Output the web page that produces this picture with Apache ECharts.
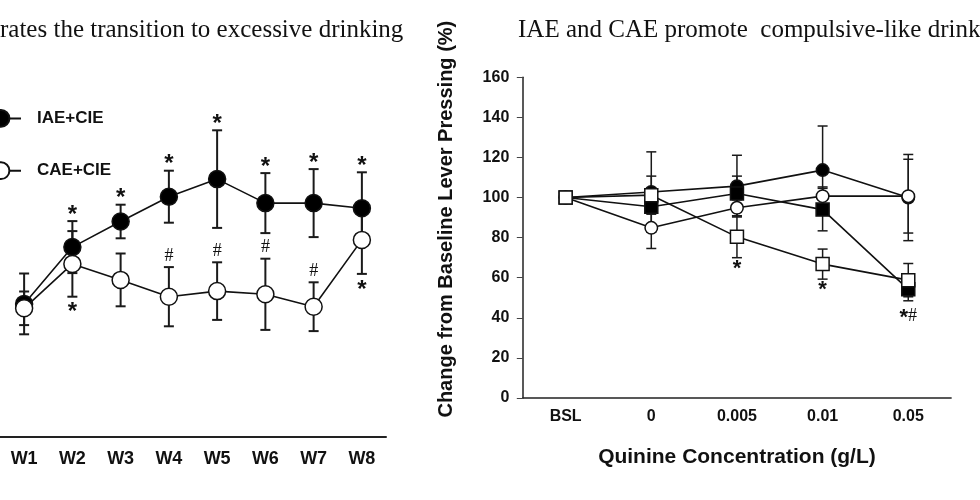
<!DOCTYPE html>
<html>
<head>
<meta charset="utf-8">
<script src="https://cdn.jsdelivr.net/npm/echarts@6.0.0/dist/echarts.min.js"></script>
<style>
    html, body { margin: 0; padding: 0; background: #fff; }
    #main { width: 980px; height: 500px; }
</style>
</head>
<body>
<div id="main"></div>
<script>
    // left panel: weekly intake
    var weeks = ['W1', 'W2', 'W3', 'W4', 'W5', 'W6', 'W7', 'W8'];
    var iaeCieMean = [3.32, 4.74, 5.38, 6.00, 6.44, 5.84, 5.84, 5.71];
    var iaeCieSem  = [0.76, 0.65, 0.42, 0.65, 1.22, 0.75, 0.85, 0.90];
    var caeCieMean = [3.21, 4.32, 3.92, 3.50, 3.64, 3.56, 3.25, 4.92];
    var caeCieSem  = [0.42, 0.82, 0.66, 0.74, 0.72, 0.89, 0.61, 0.85];
    var iaeCieStars  = ['', '*', '*', '*', '*', '*', '*', '*'];
    var caeCieHashes = ['', '', '', '#', '#', '#', '#', ''];
    var caeCieStars  = ['', '*', '', '', '', '', '', '*'];

    // right panel: quinine adulteration
    var concentrations = ['BSL', '0', '0.005', '0.01', '0.05'];
    var qIaeCieMean = [100, 102.8, 105.7, 113.7, 100];
    var qIaeCieSem  = [0, 20, 15.4, 22, 21.5];
    var qCaeCieMean = [100, 84.9, 94.9, 100.7, 100.7];
    var qCaeCieSem  = [0, 10.3, 4, 4.6, 18.4];
    var qIaeAirMean = [100, 95.4, 102, 94, 54.2];
    var qIaeAirSem  = [0, 3, 8.7, 10.6, 5.7];
    var qCaeAirMean = [100, 101.2, 80.4, 66.8, 58.8];
    var qCaeAirSem  = [0, 9.5, 10.4, 7.5, 8.3];
    var qCaeAirMarks = ['', '', '*', '*', ''];
    var qIaeAirMarks = ['', '', '', '', '*#'];

    var SANS = 'Liberation Sans';
    var SERIF = 'Liberation Serif';

    //误差线数据 [index, low, high]
    function errorRows(mean, sem) {
        var rows = [];
        for (var i = 0; i < mean.length; i++) {
            if (sem[i] > 0) {
                rows.push([i, mean[i] - sem[i], mean[i] + sem[i]]);
            }
        }
        return rows;
    }

    function errorSeries(axisIndex, mean, sem, capHalf, width) {
        return {
            type: 'custom',
            xAxisIndex: axisIndex,
            yAxisIndex: axisIndex,
            z: 1,
            silent: true,
            data: errorRows(mean, sem),
            encode: { x: 0, y: [1, 2] },
            renderItem: function (params, api) {
                var hi = api.coord([api.value(0), api.value(2)]);
                var lo = api.coord([api.value(0), api.value(1)]);
                var st = { stroke: '#1a1a1a', lineWidth: width };
                return {
                    type: 'group',
                    children: [
                        { type: 'line', shape: { x1: hi[0], y1: hi[1], x2: lo[0], y2: lo[1] }, style: st },
                        { type: 'line', shape: { x1: hi[0] - capHalf, y1: hi[1], x2: hi[0] + capHalf, y2: hi[1] }, style: st },
                        { type: 'line', shape: { x1: lo[0] - capHalf, y1: lo[1], x2: lo[0] + capHalf, y2: lo[1] }, style: st }
                    ]
                };
            }
        };
    }

    //显著性标记, above=true 放在上误差线之上
    function markSeries(axisIndex, mean, sem, texts, above, dy, font) {
        var rows = [], labels = [];
        for (var i = 0; i < texts.length; i++) {
            if (texts[i]) {
                rows.push([i, above ? mean[i] + sem[i] : mean[i] - sem[i]]);
                labels.push(texts[i]);
            }
        }
        return {
            type: 'custom',
            xAxisIndex: axisIndex,
            yAxisIndex: axisIndex,
            z: 5,
            silent: true,
            data: rows,
            renderItem: function (params, api) {
                var p = api.coord([api.value(0), api.value(1)]);
                var t = labels[params.dataIndex];
                var star = t.indexOf('*') >= 0;
                var txt = t.replace('*', '{s|*}').replace('#', '{h|#}');
                return {
                    type: 'text',
                    x: p[0],
                    y: p[1] + dy,
                    style: {
                        text: txt,
                        align: 'center',
                        verticalAlign: 'middle',
                        fill: '#111',
                        rich: {
                            s: { fontFamily: SANS, fontWeight: 'bold', fontSize: font.star, padding: [font.starShift, 0, 0, 0] },
                            h: { fontFamily: SERIF, fontSize: font.hash, padding: [star ? 6 : 0, 0, 0, 0] }
                        }
                    }
                };
            }
        };
    }

    function lineSeries(name, axisIndex, data, symbol, size, filled, z) {
        return {
            name: name,
            type: 'line',
            xAxisIndex: axisIndex,
            yAxisIndex: axisIndex,
            data: data,
            z: z,
            symbol: symbol,
            symbolSize: size,
            showAllSymbol: true,
            lineStyle: { color: '#111', width: 1.6 },
            itemStyle: { color: filled ? '#000' : '#fff', borderColor: '#111', borderWidth: 1.5, opacity: 1 },
            emphasis: { disabled: true }
        };
    }

    var leftFont = { star: 24, starShift: 10, hash: 18 };
    var rightFont = { star: 22, starShift: 10, hash: 18 };

    var chart = echarts.init(document.getElementById('main'));
    var option = {
        animation: false,
        backgroundColor: '#fff',
        title: [
            {
                text: 'rates the transition to excessive drinking',
                left: 0, top: 18, padding: 0,
                textStyle: { fontFamily: SERIF, fontWeight: 'normal', fontSize: 25, color: '#111' }
            },
            {
                text: 'IAE and CAE promote  compulsive-like drink',
                left: 518, top: 18, padding: 0,
                textStyle: { fontFamily: SERIF, fontWeight: 'normal', fontSize: 25, color: '#111' }
            }
        ],
        legend: {
            data: ['IAE+CIE', 'CAE+CIE'],
            orient: 'vertical',
            left: -20,
            top: 109,
            padding: 0,
            itemWidth: 40,
            itemHeight: 21,
            itemGap: 33.5,
            selectedMode: false,
            textStyle: { fontFamily: SANS, fontWeight: 'bold', fontSize: 17, color: '#111', padding: [0, 0, 0, 11] }
        },
        grid: [
            { left: -18.5, top: 116.7, width: 404.5, height: 320 },
            { left: 522.8, top: 77.3, width: 428.3, height: 320.7 }
        ],
        xAxis: [
            {
                gridIndex: 0,
                type: 'category',
                data: weeks,
                axisLine: { lineStyle: { color: '#222', width: 2 } },
                axisTick: { alignWithLabel: true, length: 8, lineStyle: { color: '#777', width: 1.2 } },
                axisLabel: { margin: 13, color: '#111', fontFamily: SANS, fontWeight: 'bold', fontSize: 18 },
                splitLine: { show: false }
            },
            {
                gridIndex: 1,
                type: 'category',
                data: concentrations,
                name: 'Quinine Concentration (g/L)',
                nameLocation: 'middle',
                nameGap: 49,
                nameTextStyle: { fontFamily: SANS, fontWeight: 'bold', fontSize: 21, color: '#111' },
                axisLine: { lineStyle: { color: '#222', width: 1.5 } },
                axisTick: { alignWithLabel: true, length: 8, lineStyle: { color: '#555', width: 1 } },
                axisLabel: { margin: 11, color: '#111', fontFamily: SANS, fontWeight: 'bold', fontSize: 16 },
                splitLine: { show: false }
            }
        ],
        yAxis: [
            { gridIndex: 0, type: 'value', min: 0, max: 8, show: false },
            {
                gridIndex: 1,
                type: 'value',
                min: 0, max: 160, interval: 20,
                name: 'Change from Baseline Lever Pressing (%)',
                nameLocation: 'middle',
                nameRotate: 90,
                nameGap: 66.5,
                nameTextStyle: { fontFamily: SANS, fontWeight: 'bold', fontSize: 20, color: '#111', padding: [0, 0, 0, 37] },
                axisLine: { show: true, lineStyle: { color: '#222', width: 1.5 } },
                axisTick: { show: true, length: 6, lineStyle: { color: '#444', width: 1 } },
                axisLabel: { margin: 13.5, color: '#111', fontFamily: SANS, fontWeight: 'bold', fontSize: 16 },
                splitLine: { show: false }
            }
        ],
        series: [
            errorSeries(0, iaeCieMean, iaeCieSem, 5, 2),
            errorSeries(0, caeCieMean, caeCieSem, 5, 2),
            lineSeries('IAE+CIE', 0, iaeCieMean, 'circle', 17, true, 3),
            lineSeries('CAE+CIE', 0, caeCieMean, 'circle', 17, false, 4),
            markSeries(0, iaeCieMean, iaeCieSem, iaeCieStars, true, -11, leftFont),
            markSeries(0, caeCieMean, caeCieSem, caeCieHashes, true, -11, leftFont),
            markSeries(0, caeCieMean, caeCieSem, caeCieStars, false, 11, leftFont),

            errorSeries(1, qIaeCieMean, qIaeCieSem, 5, 1.5),
            errorSeries(1, qCaeCieMean, qCaeCieSem, 5, 1.5),
            errorSeries(1, qIaeAirMean, qIaeAirSem, 5, 1.5),
            errorSeries(1, qCaeAirMean, qCaeAirSem, 5, 1.5),
            lineSeries('Quinine IAE+CIE', 1, qIaeCieMean, 'circle', 12.5, true, 3),
            lineSeries('Quinine IAE+Air', 1, qIaeAirMean, 'rect', 13, true, 3),
            lineSeries('Quinine CAE+CIE', 1, qCaeCieMean, 'circle', 12.5, false, 4),
            lineSeries('Quinine CAE+Air', 1, qCaeAirMean, 'rect', 13, false, 4),
            markSeries(1, qCaeAirMean, qCaeAirSem, qCaeAirMarks, false, 6, rightFont),
            markSeries(1, qIaeAirMean, qIaeAirSem, qIaeAirMarks, false, 12, rightFont)
        ]
    };
    chart.setOption(option);
</script>
</body>
</html>
